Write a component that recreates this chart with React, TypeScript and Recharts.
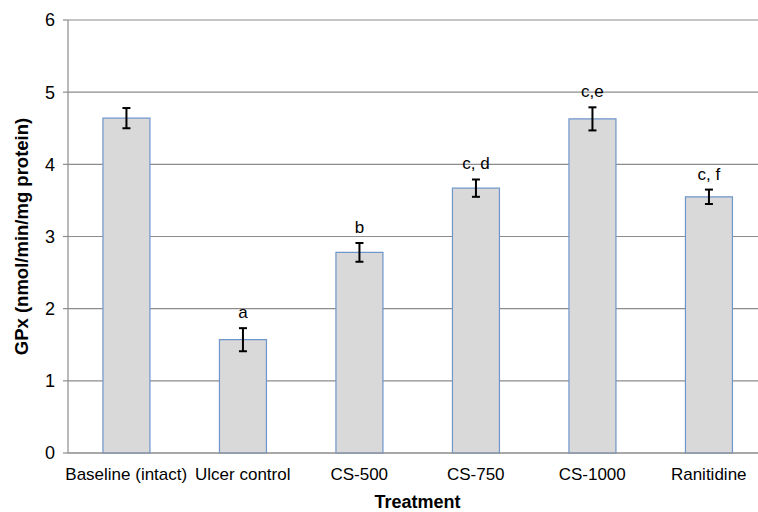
import React from "react";
import {
  BarChart,
  Bar,
  XAxis,
  YAxis,
  CartesianGrid,
  ErrorBar,
  LabelList,
  Label,
} from "recharts";

const categories = [
  "Baseline (intact)",
  "Ulcer control",
  "CS-500",
  "CS-750",
  "CS-1000",
  "Ranitidine",
];
const gpxValues = [4.64, 1.57, 2.78, 3.67, 4.63, 3.55];
const gpxErrors = [0.14, 0.16, 0.13, 0.12, 0.16, 0.1];
const sigLetters = ["", "a", "b", "c, d", "c,e", "c, f"];
const yTicks = [0, 1, 2, 3, 4, 5, 6];
const edgeTicks = [0, 1, 2, 3, 4, 5, 6];

const data = categories.map((name, i) => ({
  name,
  gpx: gpxValues[i],
  err: gpxErrors[i],
  letter: sigLetters[i],
}));

const FONT = "'Liberation Sans', Arial, Helvetica, sans-serif";
const GRID = "#8c8c8c";

const SigLabel = (props: any) => {
  const vb = props.viewBox || {};
  const x = props.x ?? vb.x;
  const y = props.y ?? vb.y;
  const width = props.width ?? vb.width;
  const height = props.height ?? vb.height;
  const idx = props.index;
  const value = Number(props.value);
  if (idx == null || !sigLetters[idx]) return null;
  const pxPerUnit = value ? height / value : 0;
  const errTop = y - gpxErrors[idx] * pxPerUnit;
  return (
    <text
      x={x + width / 2}
      y={errTop - 10}
      textAnchor="middle"
      fontSize={17}
      fontFamily={FONT}
      fill="#000"
    >
      {sigLetters[idx]}
    </text>
  );
};

export default function App() {
  return (
    <div
      style={{
        position: "fixed",
        left: 8,
        top: 8,
        width: 750,
        height: 504,
        overflow: "hidden",
        background: "#fff",
      }}
    >
      <BarChart
        width={760}
        height={504}
        data={data}
        margin={{ top: 12, right: 1, bottom: 0, left: 0 }}
        barCategoryGap="30%"
      >
        <CartesianGrid
          vertical={false}
          stroke={GRID}
          strokeWidth={1.2}
          xAxisId="cat"
        />
        <XAxis
          xAxisId="edge"
          type="number"
          domain={[0, 6]}
          ticks={edgeTicks}
          tick={false}
          axisLine={false}
          tickLine={{ stroke: GRID, strokeWidth: 1.2 }}
          tickSize={5}
          height={0}
          allowDataOverflow
        />
        <XAxis
          xAxisId="cat"
          dataKey="name"
          height={59}
          tickLine={false}
          axisLine={{ stroke: GRID, strokeWidth: 1.2 }}
          tickSize={5}
          tickMargin={10}
          interval={0}
          tick={{ fontSize: 17, fill: "#000", fontFamily: FONT }}
        >
          <Label
            value="Treatment"
            position="insideBottom"
            offset={4}
            style={{ fontSize: 18, fontWeight: "bold", fill: "#000", fontFamily: FONT }}
          />
        </XAxis>
        <YAxis
          domain={[0, 6]}
          ticks={yTicks}
          width={60}
          tickSize={5}
          tickMargin={8}
          axisLine={{ stroke: GRID, strokeWidth: 1.2 }}
          tickLine={{ stroke: GRID, strokeWidth: 1.2 }}
          tick={{ fontSize: 18, fill: "#000", fontFamily: FONT }}
        >
          <Label
            value="GPx (nmol/min/mg protein)"
            angle={-90}
            position="insideLeft"
            offset={13}
            style={{
              fontSize: 18.5,
              fontWeight: "bold",
              fill: "#000",
              fontFamily: FONT,
              textAnchor: "middle",
            }}
          />
        </YAxis>
        <Bar
          xAxisId="cat"
          dataKey="gpx"
          fill="#d9d9d9"
          stroke="#6f96cc"
          strokeWidth={1.2}
          isAnimationActive={false}
        >
          <ErrorBar
            dataKey="err"
            width={4}
            stroke="#000"
            strokeWidth={2}
            direction="y"
          />
          <LabelList dataKey="gpx" content={SigLabel} />
        </Bar>
      </BarChart>
    </div>
  );
}
